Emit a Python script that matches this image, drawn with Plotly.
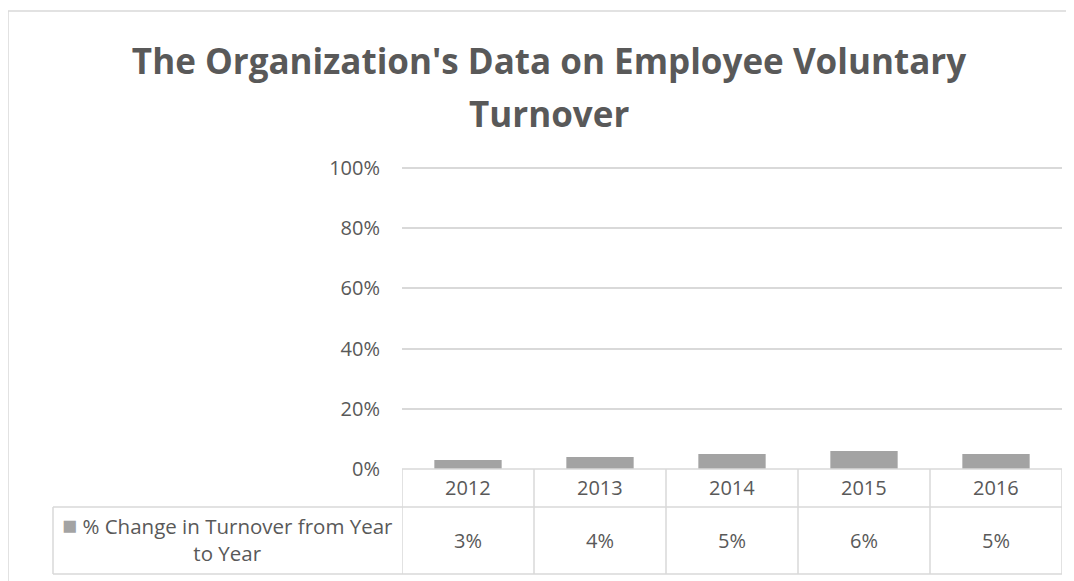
import plotly.graph_objects as go

years = ["2012", "2013", "2014", "2015", "2016"]
turnover_change = [0.03, 0.04, 0.05, 0.06, 0.05]
value_labels = ["3%", "4%", "5%", "6%", "5%"]
series_name = "% Change in Turnover from Year to Year"
y_ticks = [0, 0.2, 0.4, 0.6, 0.8, 1.0]
y_tick_labels = ["0%", "20%", "40%", "60%", "80%", "100%"]
title_lines = ["The Organization's Data on Employee Voluntary", "Turnover"]

FONT = "Open Sans"
TXT = "#595959"
GRID = "#d9d9d9"
BAR = "#a3a3a3"

OFF = 8  # page body margin
YMAX = 1.02
UNIT = 301  # pixels per 100%
W, H = 1074 - OFF, 581 - OFF
L = 402 - OFF
R = W - (1062 - OFF)
B = H - (469 - OFF)
T = (168 - OFF) - UNIT * (YMAX - 1)
plot_h = H - T - B
plot_w = W - L - R


def py(pix):
    """screen pixel y -> paper y"""
    return (H - B - (pix - OFF)) / plot_h


def px(pix):
    return (pix - OFF - L) / plot_w


fig = go.Figure()
fig.add_trace(go.Bar(
    x=list(range(len(years))), y=turnover_change, name=series_name,
    marker=dict(color=BAR, line=dict(width=0)),
    showlegend=False, hoverinfo="skip",
))

n = len(years)
row1_bottom = py(507)
row2_bottom = py(574)
line_style = dict(color=GRID, width=1.5)
shapes = []
# outer chart border
shapes.append(dict(type="rect", xref="paper", yref="paper",
                   x0=px(8), x1=px(1100), y0=py(640), y1=py(11),
                   line=line_style, layer="below"))
# table horizontal lines
shapes.append(dict(type="line", xref="x", yref="paper", x0=-0.5, x1=n - 0.5, y0=0, y1=0,
                   line=line_style))
for yy in (row1_bottom, row2_bottom):
    shapes.append(dict(type="line", xref="paper", yref="paper", x0=px(53), x1=1, y0=yy, y1=yy,
                       line=line_style))
# vertical lines
for i in range(n + 1):
    shapes.append(dict(type="line", xref="x", yref="paper", x0=i - 0.5, x1=i - 0.5,
                       y0=0, y1=row2_bottom, line=line_style))
shapes.append(dict(type="line", xref="paper", yref="paper", x0=px(53), x1=px(53),
                   y0=row1_bottom, y1=row2_bottom, line=line_style))

annotations = []
cell_font = dict(family=FONT, size=20, color=TXT)
for i, (yr, lab) in enumerate(zip(years, value_labels)):
    annotations.append(dict(x=i, y=(0 + row1_bottom) / 2, xref="x", yref="paper", text=yr,
                            xanchor="center", yanchor="middle",
                            showarrow=False, font=cell_font))
    annotations.append(dict(x=i, y=(row1_bottom + row2_bottom) / 2, xref="x", yref="paper", text=lab,
                            xanchor="center", yanchor="middle",
                            showarrow=False, font=cell_font))
annotations.append(dict(
    x=px(53) / 2, y=py(537), xref="paper", yref="paper",
    xanchor="center", yanchor="middle",
    text=f"<span style='color:{BAR};font-size:25px'>■</span> % Change in Turnover from Year<br>to Year",
    showarrow=False, align="center", font=dict(family=FONT, size=20.5, color=TXT)))
# second title line
title_font = dict(family=FONT, size=35, color=TXT, weight="bold")
annotations.append(dict(x=px(549), y=py(113), xref="paper", yref="paper",
                        text=title_lines[1], showarrow=False,
                        xanchor="center", yanchor="middle", font=title_font))

fig.update_layout(
    width=W, height=H,
    margin=dict(l=L, r=R, t=T, b=B, pad=0),
    paper_bgcolor="white", plot_bgcolor="white",
    title=dict(text=title_lines[0],
               x=(549 - OFF) / W, xanchor="center", xref="container",
               y=1 - (62 - OFF) / H, yanchor="middle", yref="container",
               font=title_font),
    bargap=0.49,
    xaxis=dict(range=[-0.5, n - 0.5], showticklabels=False, showgrid=False, zeroline=False,
               showline=False, fixedrange=True),
    yaxis=dict(range=[0, YMAX], tickvals=y_ticks, ticktext=y_tick_labels, showgrid=True,
               gridcolor=GRID, gridwidth=1.5, zeroline=False, showline=False,
               ticks="outside", ticklen=17, tickcolor="rgba(0,0,0,0)",
               tickfont=dict(family=FONT, size=20, color=TXT), fixedrange=True),
    shapes=shapes, annotations=annotations,
)

fig.write_html("out.html")
